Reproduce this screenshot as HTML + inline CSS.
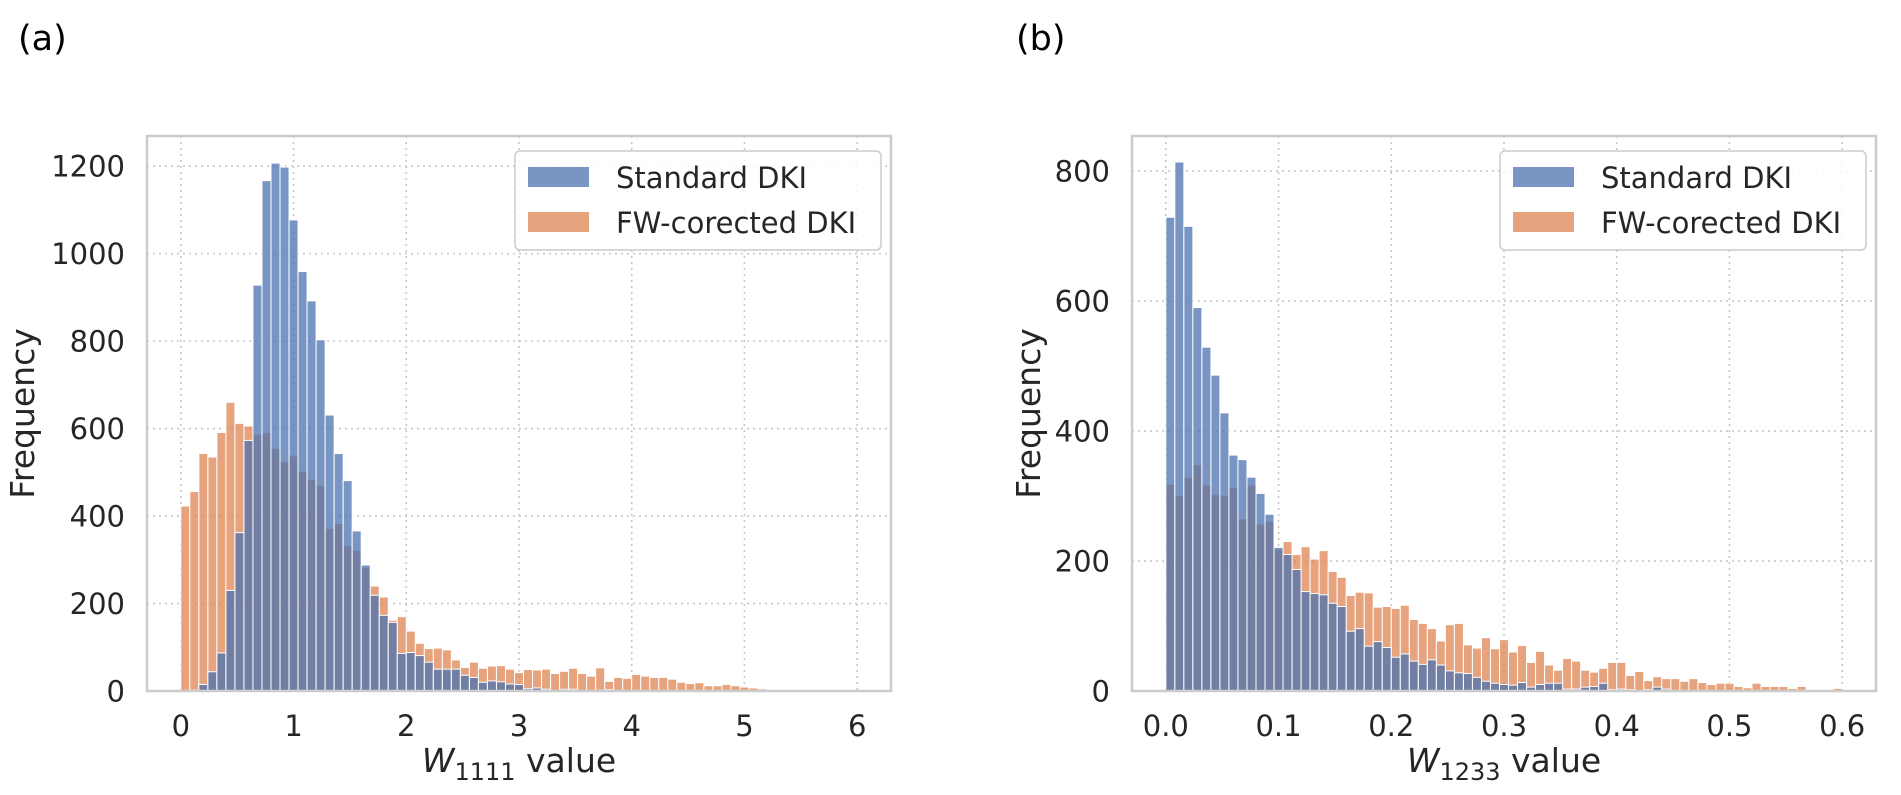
<!DOCTYPE html>
<html><head><meta charset="utf-8"><style>
html,body{margin:0;padding:0;background:#fff;}
svg{display:block;font-family:"DejaVu Sans","Liberation Sans",sans-serif;}
</style></head><body>
<svg id="fig" width="1901" height="795" viewBox="0 0 1901 795" xmlns="http://www.w3.org/2000/svg"></svg>
<script>
const binMinA = 0, binMaxA = 6;
const stdA = [0,2,15,44,87,230,362,573,928,1167,1207,1198,1077,959,892,803,631,543,481,366,288,219,173,157,86,88,81,66,50,50,50,36,31,20,23,21,16,15,5,7,4,0,4,4,0,0,2,3,0,0,0,0,0,0,0,0,0,0,0,0,0,0,0,0,0,0,0,0,0,0,0,0,0,0,0];
const fwA = [423,456,543,535,591,660,612,606,587,591,555,525,538,502,484,470,372,383,332,322,283,240,215,162,170,137,109,97,98,94,71,54,66,52,57,58,50,42,49,48,50,40,45,52,40,34,53,22,31,29,38,34,31,31,27,20,17,19,12,12,15,12,9,7,5,2,3,3,3,2,2,3,0,0,1];
const xTicksA = ["0","1","2","3","4","5","6"];
const xTickValsA = [0,1,2,3,4,5,6];
const yTicksA = [0,200,400,600,800,1000,1200];

const binMinB = 0, binMaxB = 0.6;
const stdB = [729,814,715,590,529,486,428,363,356,329,304,272,221,210,187,153,150,148,135,130,92,96,69,76,67,52,57,46,41,48,40,31,28,27,21,15,12,10,9,13,6,10,12,12,3,3,6,7,12,2,3,2,0,2,6,3,0,0,0,0,0,0,0,0,0,0,0,0,0,0,0,0,0,0,0];
const fwB = [318,301,329,348,317,302,301,313,265,317,257,261,218,230,210,222,203,216,184,175,147,152,151,129,130,127,132,110,104,96,77,102,104,71,66,82,65,79,60,70,44,61,40,32,50,46,32,29,35,44,44,24,30,16,22,19,19,15,19,13,10,12,12,7,5,12,7,7,7,4,7,2,0,1,4];
const xTicksB = ["0.0","0.1","0.2","0.3","0.4","0.5","0.6"];
const xTickValsB = [0,0.1,0.2,0.3,0.4,0.5,0.6];
const yTicksB = [0,200,400,600,800];

const NS = "http://www.w3.org/2000/svg";
const svg = document.getElementById('fig');
function mk(tag, attrs, parent){const e=document.createElementNS(NS,tag);for(const k in attrs)e.setAttribute(k,attrs[k]);(parent||svg).appendChild(e);return e;}

function panel(o){
  const g = mk('g',{});
  
  
  const L=o.left,R=o.right,T=136,B=691;
  const x0=o.xlim[0],x1=o.xlim[1];
  const sx=v=>L+(v-x0)/(x1-x0)*(R-L);
  const sy=v=>B-v/o.ymax*(B-T);
  o.xv.forEach((v,i)=>{
    const ln=mk('line',{x1:sx(v),x2:sx(v),y1:T,y2:B,stroke:'#c8c8c8','stroke-width':1.6,'stroke-dasharray':'2,4'},g);
    
    
    const t=mk('text',{x:sx(v),y:736,'text-anchor':'middle','font-size':29,fill:'#262626'},g);
    t.textContent=o.xt[i];
    
    
  });
  o.yt.forEach(v=>{
    const ln=mk('line',{x1:L,x2:R,y1:sy(v),y2:sy(v),stroke:'#c8c8c8','stroke-width':1.6,'stroke-dasharray':'2,4'},g);
    
    
    const t=mk('text',{x:L-22,y:sy(v)+10.5,'text-anchor':'end','font-size':29,fill:'#262626'},g);
    t.textContent=String(v);
    
    
  });
  const n=o.fw.length, bw=(o.bmax-o.bmin)/n;
  const drawSeries=(arr,color,name)=>{
    arr.forEach((v,i)=>{
      if(v<=0) return;
      const xa=sx(o.bmin+i*bw), xb=sx(o.bmin+(i+1)*bw);
      const r=mk('rect',{x:xa,y:sy(v),width:xb-xa,height:sy(0)-sy(v),fill:color,'fill-opacity':0.75,stroke:'#ffffff','stroke-width':1},g);
      
      
    });
  };
  drawSeries(o.fw,'#dd8452','fw-corrected-bar');
  drawSeries(o.std,'#4c72b0','standard-dki-bar');
  const fr=mk('rect',{x:L,y:T,width:R-L,height:B-T,fill:'none',stroke:'#cccccc','stroke-width':2.5},g);
  
  
  const yl=mk('text',{x:0,y:0,'text-anchor':'middle','font-size':33,fill:'#262626',transform:`translate(${o.ylx},${(T+B)/2}) rotate(-90)`},g);
  yl.textContent='Frequency';
  
  
  const xl=mk('text',{x:(L+R)/2,y:772,'text-anchor':'middle','font-size':33,fill:'#262626'},g);
  xl.innerHTML=`<tspan font-style="italic">W</tspan><tspan font-size="24" dy="8">${o.sub}</tspan><tspan dy="-8"> value</tspan>`;
  
  
  const pt=mk('text',{x:o.tx,y:50,'font-size':35,fill:'#000'},g);
  pt.textContent=o.title;
  
  
  const lg=mk('g',{},g);
  
  
  const lw=366, lx=R-10-lw, ly=151;
  mk('rect',{x:lx,y:ly,width:lw,height:99,rx:5,fill:'#fff','fill-opacity':0.85,stroke:'#cccccc','stroke-width':1.5},lg);
  [['Standard DKI','#4c72b0'],['FW-corected DKI','#dd8452']].forEach((e,i)=>{
    const it=mk('g',{},lg);
    
    
    mk('rect',{x:lx+13,y:ly+16+i*45,width:61,height:20,fill:e[1],'fill-opacity':0.75},it);
    const t=mk('text',{x:lx+101,y:ly+37+i*45,'font-size':29,fill:'#262626'},it);
    t.textContent=e[0];
  });
}
panel({name:'panel-a',left:147,right:891,xlim:[-0.3,6.3],ymax:1269,bmin:binMinA,bmax:binMaxA,std:stdA,fw:fwA,xt:xTicksA,xv:xTickValsA,yt:yTicksA,ylx:34,sub:'1111',tx:18,title:'(a)'});
panel({name:'panel-b',left:1132,right:1876,xlim:[-0.03,0.63],ymax:854,bmin:binMinB,bmax:binMaxB,std:stdB,fw:fwB,xt:xTicksB,xv:xTickValsB,yt:yTicksB,ylx:1040,sub:'1233',tx:1016,title:'(b)'});
</script>
</body></html>
